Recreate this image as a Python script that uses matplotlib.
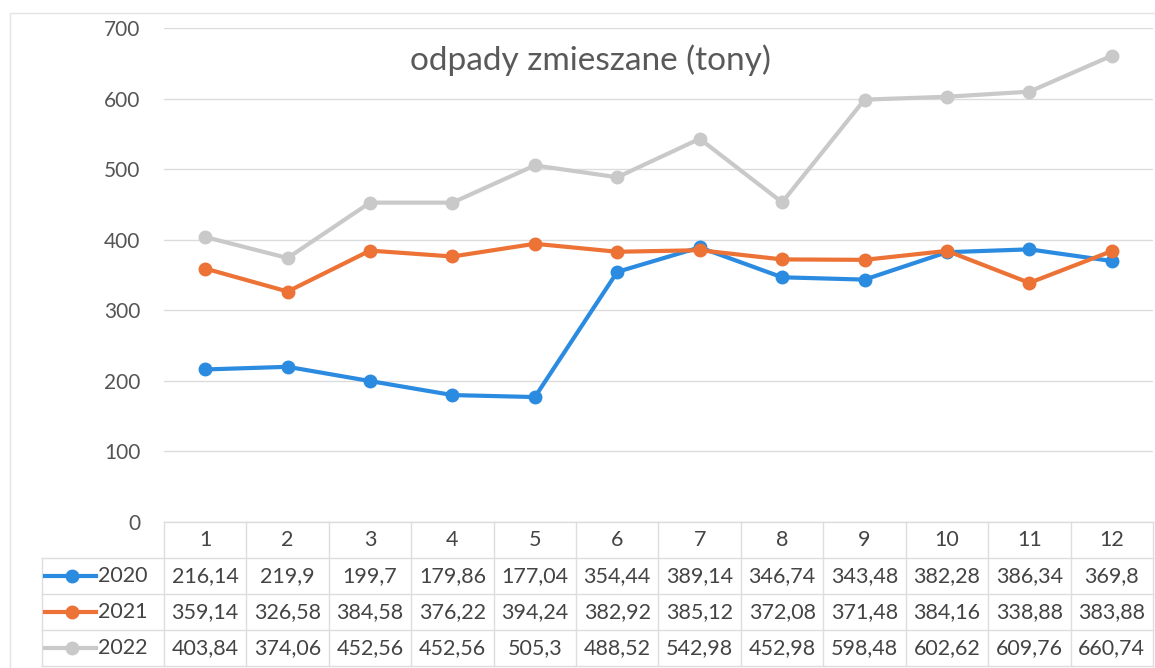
import matplotlib.pyplot as plt
from matplotlib.patches import Rectangle

plt.rcParams['font.family'] = ['Lato', 'DejaVu Sans']

months = ['1', '2', '3', '4', '5', '6', '7', '8', '9', '10', '11', '12']
years = ['2020', '2021', '2022']
v2020 = [216.14, 219.9, 199.7, 179.86, 177.04, 354.44, 389.14, 346.74, 343.48, 382.28, 386.34, 369.8]
v2021 = [359.14, 326.58, 384.58, 376.22, 394.24, 382.92, 385.12, 372.08, 371.48, 384.16, 338.88, 383.88]
v2022 = [403.84, 374.06, 452.56, 452.56, 505.3, 488.52, 542.98, 452.98, 598.48, 602.62, 609.76, 660.74]
series = [v2020, v2021, v2022]
colors = ['#2b8be0', '#ec7236', '#c9c9c9']

fig = plt.figure(figsize=(11.55, 6.68), dpi=100)
W, H = 1155, 668
# plot area in pixels
left, right, top, bottom = 164, 1153, 28, 522
ax = fig.add_axes([left / W, 1 - bottom / H, (right - left) / W, (bottom - top) / H])

x = range(1, 13)
for vals, c in zip(series, colors):
    ax.plot(x, vals, color=c, lw=3, marker='o', ms=9, mfc=c, mec=c, zorder=3)

ax.set_xlim(0.5, 12.5)
ax.set_ylim(0, 700)
ax.set_yticks(range(0, 701, 100))
ax.set_xticks([])
ax.grid(axis='y', color='#dcdcdc', lw=1)
ax.tick_params(axis='y', length=0, pad=17, labelsize=15, labelcolor='#555555')
for s in ax.spines.values():
    s.set_visible(False)

# title centred on the whole chart
fig.text(590 / W, 1 - 60 / H, 'odpady zmieszane (tony)', ha='center', va='center',
         fontsize=24, color='#595959')

# data table below the plot
rh = 36 / (bottom - top)  # row height in axes fraction
tr = ax.get_xaxis_transform()
gc = '#dddddd'
txt = '#444444'
for i, m in enumerate(months):
    ax.text(i + 1, -rh / 2, m, transform=tr, ha='center', va='center',
            fontsize=15.5, color=txt, clip_on=False)
    for r, vals in enumerate(series):
        s = ('%g' % vals[i]).replace('.', ',')
        ax.text(i + 1, -rh * (r + 1.5), s, transform=tr, ha='center', va='center',
                fontsize=15.5, color=txt, clip_on=False)

# grid lines of the table
for k in range(13):
    ax.plot([k + 0.5, k + 0.5], [0, -4 * rh], transform=tr, color=gc, lw=1, clip_on=False)
lx0 = (42 - left) / (right - left) * 12 + 0.5
for r in range(1, 5):
    ax.plot([lx0, 12.5], [-rh * r, -rh * r], transform=tr, color=gc, lw=1, clip_on=False)
ax.plot([0.5, 12.5], [0, 0], transform=tr, color=gc, lw=1, clip_on=False)
ax.plot([lx0, lx0], [-rh, -4 * rh], transform=tr, color=gc, lw=1, clip_on=False)

# legend keys inside the table
for r, (y, c) in enumerate(zip(years, colors)):
    yy = 1 - (bottom + 36 * (r + 1.5)) / H
    fig.add_artist(plt.Line2D([45 / W, 96 / W], [yy, yy], color=c, lw=3))
    fig.add_artist(plt.Line2D([72 / W], [yy], color=c, marker='o', ms=9))
    fig.text(98 / W, yy, y, ha='left', va='center', fontsize=15.5, color=txt)

# faint chart border
fig.add_artist(Rectangle((10 / W, -0.01), 1.05, 1 - 13 / H + 0.01, transform=fig.transFigure,
                         fill=False, ec='#e4e4e4', lw=1))

fig.savefig('out.png', dpi=100, facecolor='white')
